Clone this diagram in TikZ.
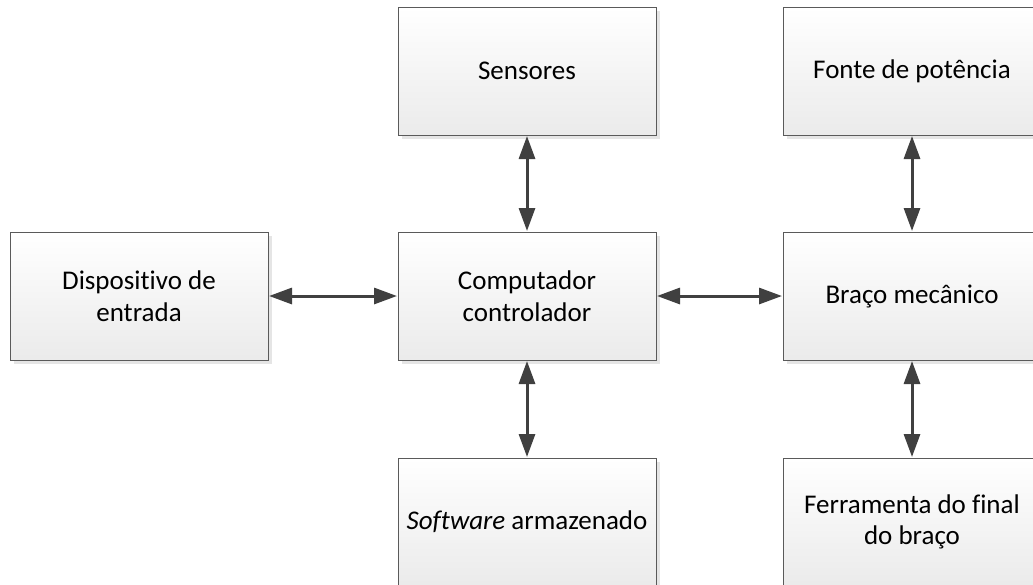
\documentclass[tikz,border=0pt]{standalone}
\usepackage{fontspec}
\setmainfont{Carlito}[Ligatures=NoCommon]
\usetikzlibrary{arrows.meta,shadows}
\definecolor{edge}{HTML}{5A5A5A}
\definecolor{arrowc}{HTML}{404040}
\begin{document}
\begin{tikzpicture}[x=1pt,y=-1pt,
  blk/.style={draw=edge, line width=1pt, rectangle, minimum width=258pt, minimum height=128pt,
    top color=white, bottom color=black!8, align=center, inner sep=0pt,
    font=\fontsize{27}{31.5}\selectfont,
    drop shadow={shadow xshift=3.5pt, shadow yshift=-3.5pt, fill=black!10, opacity=1}},
  arr/.style={draw=arrowc, line width=3pt, {Triangle[length=23pt,width=16pt]}-{Triangle[length=23pt,width=16pt]}, shorten <=0.5pt, shorten >=0.5pt}]
\useasboundingbox (0,0) rectangle (1033,584);
\clip (0,0) rectangle (1033,584);
\node[blk] (inp) at (139,296) {Dispositivo de\\entrada};
\node[blk] (ctrl) at (527,296) {Computador\\controlador};
\node[blk] (arm) at (912,296) {Braço mecânico};
\node[blk] (sens) at (527,71) {Sensores};
\node[blk] (pow) at (912,71) {Fonte de potência};
\node[blk] (soft) at (527,522) {\textit{Software} armazenado};
\node[blk] (tool) at (912,522) {Ferramenta do final\\do braço};
\draw[arr] (inp.east) -- (ctrl.west);
\draw[arr] (ctrl.east) -- (arm.west);
\draw[arr] (sens.south) -- (ctrl.north);
\draw[arr] (ctrl.south) -- (soft.north);
\draw[arr] (pow.south) -- (arm.north);
\draw[arr] (arm.south) -- (tool.north);
\end{tikzpicture}
\end{document}
